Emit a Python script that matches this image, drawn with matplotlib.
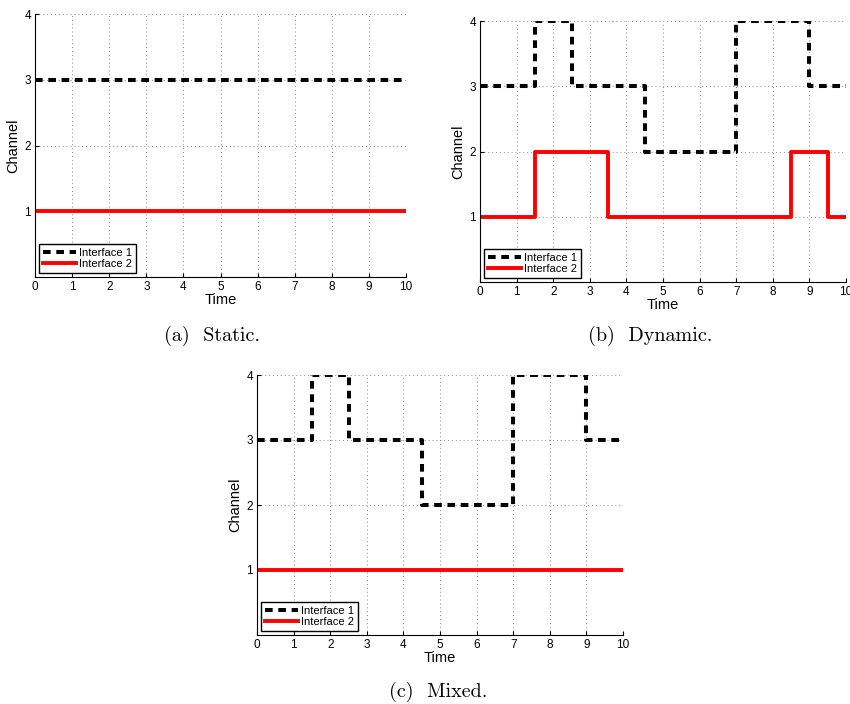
import numpy as np
import matplotlib
matplotlib.use("Agg")
import matplotlib.pyplot as plt

plt.rcParams['font.family'] = ['Liberation Sans', 'DejaVu Sans']

# step data: change times and channel after each change
t_static = [0, 10]
if1_static = [3, 3]
if2_static = [1, 1]

t_if1 = [0, 1.5, 2.5, 4.5, 7, 9, 10]
ch_if1 = [3, 4, 3, 2, 4, 3, 3]

t_if2 = [0, 1.5, 3.5, 8.5, 9.5, 10]
ch_if2 = [1, 2, 1, 2, 1, 1]

xticks = list(range(0, 11))
yticks = [1, 2, 3, 4]
labels = ['Interface 1', 'Interface 2']
captions = ['(a)  Static.', '(b)  Dynamic.', '(c)  Mixed.']

W, H = 850, 704
fig = plt.figure(figsize=(W / 100, H / 100), dpi=100)


def make_ax(l, r, t, b):
    return fig.add_axes([l / W, 1 - b / H, (r - l) / W, (b - t) / H])


def draw(ax, x1, y1, x2, y2):
    ax.step(x1, y1, where='post', color='black', lw=2.9,
            dashes=(1.9, 1.4), label=labels[0], zorder=3)
    ax.step(x2, y2, where='post', color='red', lw=2.8,
            label=labels[1], zorder=2)
    ax.set_xlim(0, 10)
    ax.set_ylim(0, 4)
    ax.set_xticks(xticks)
    ax.set_yticks(yticks)
    ax.tick_params(direction='in', labelsize=8.5, length=3, pad=3,
                   top=False, right=False)
    ax.grid(True, linestyle=(0, (1, 3)), color='#888888', lw=0.7)
    ax.set_xlabel('Time', fontsize=10.5, labelpad=0)
    ax.set_ylabel('Channel', fontsize=10.5, labelpad=3)
    for s in ['top', 'right']:
        ax.spines[s].set_visible(False)
    leg = ax.legend(loc='lower left', fontsize=8, handlelength=3.0,
                    handletextpad=0.3, borderpad=0.3, labelspacing=0.15,
                    fancybox=False, framealpha=1, borderaxespad=0.4)
    leg.get_frame().set_edgecolor('black')
    leg.get_frame().set_linewidth(1.0)


ax_a = make_ax(35, 406, 14, 277)
draw(ax_a, t_static, if1_static, t_static, if2_static)
ax_b = make_ax(480, 846, 21, 282)
draw(ax_b, t_if1, ch_if1, t_if2, ch_if2)
ax_c = make_ax(257, 623, 375, 635)
draw(ax_c, t_if1, ch_if1, t_static, if2_static)

cap_pos = [(212, 336), (650, 336), (438, 692)]
for (cx, cy), txt in zip(cap_pos, captions):
    fig.text(cx / W, 1 - cy / H, txt, family='cmr10', fontsize=14.5,
             ha='center', va='center')

fig.savefig('out.png', dpi=100)
